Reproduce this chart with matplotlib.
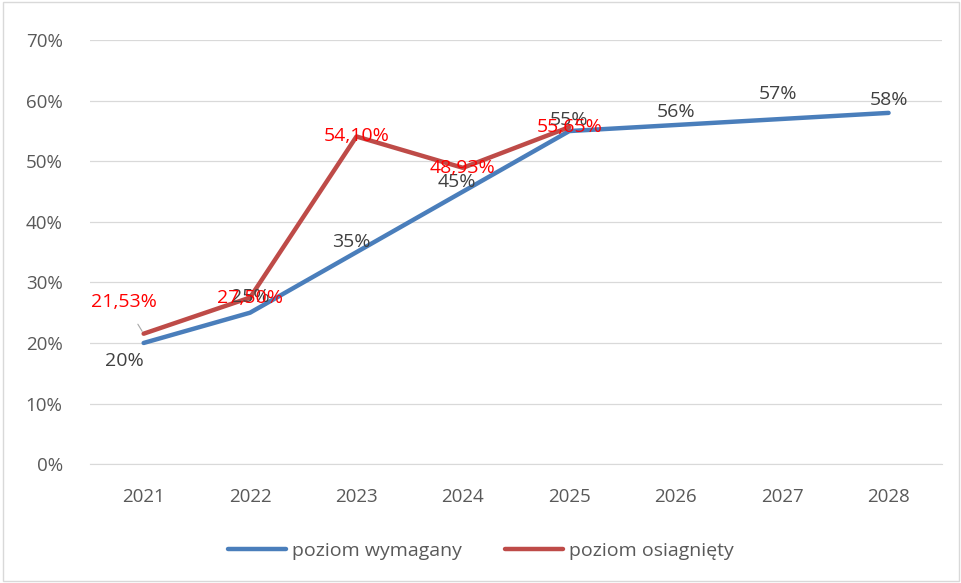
import matplotlib
matplotlib.use("Agg")
import matplotlib.pyplot as plt
from matplotlib.patches import Rectangle

years = ["2021", "2022", "2023", "2024", "2025", "2026", "2027", "2028"]
required = [20, 25, 35, 45, 55, 56, 57, 58]
achieved = [21.53, 27.50, 54.10, 48.93, 55.65]

req_labels = ["20%", "25%", "35%", "45%", "55%", "56%", "57%", "58%"]
ach_labels = ["21,53%", "27,50%", "54,10%", "48,93%", "55,65%"]

BLUE = "#4A7EBB"
RED = "#BE4B48"
GRAY = "#595959"

plt.rcParams["font.family"] = ["Open Sans", "DejaVu Sans"]

fig = plt.figure(figsize=(9.62, 5.83), dpi=100)
ax = fig.add_axes([0.094, 0.204, 0.885, 0.727])

x = list(range(len(years)))
ax.plot(x, required, color=BLUE, lw=3.2, solid_capstyle="round", label="poziom wymagany", zorder=3)
ax.plot(x[:len(achieved)], achieved, color=RED, lw=3.2, solid_capstyle="round", label="poziom osiagnięty", zorder=3)

ax.set_xlim(-0.5, len(years) - 0.5)
ax.set_ylim(0, 70)
ax.set_yticks(range(0, 71, 10))
ax.set_yticklabels([f"{v}%" for v in range(0, 71, 10)])
ax.set_xticks(x)
ax.set_xticklabels(years)
ax.tick_params(axis="both", colors=GRAY, labelsize=13.5, length=0)
ax.tick_params(axis="y", pad=20)
ax.tick_params(axis="x", pad=17)
ax.grid(axis="y", color="#D9D9D9", lw=0.9)
ax.set_axisbelow(True)
for s in ["top", "right", "left"]:
    ax.spines[s].set_visible(False)
ax.spines["bottom"].set_color("#D9D9D9")

# data labels for required level
req_offsets = [(-14, -13), (0, 11), (-4, 7), (-4, 7), (0, 8), (0, 9), (-3, 18), (0, 9)]
for i, (v, lab) in enumerate(zip(required, req_labels)):
    dx, dy = req_offsets[i]
    ax.annotate(lab, (i, v), xytext=(dx, dy), textcoords="offset points",
                ha="center", va="center", color="#404040", fontsize=14, zorder=4)

# data labels for achieved level
for i, (v, lab) in enumerate(zip(achieved, ach_labels)):
    if i == 0:
        ax.annotate(lab, (i, v), xytext=(-14, 23), textcoords="offset points",
                    ha="center", va="center", color="#FF0000", fontsize=14, zorder=5,
                    arrowprops=dict(arrowstyle="-", color="#A6A6A6", lw=0.8,
                                    shrinkA=9, shrinkB=2))
    else:
        ax.annotate(lab, (i, v), xytext=(0, 0), textcoords="offset points",
                    ha="center", va="center", color="#FF0000", fontsize=14, zorder=5)

leg = fig.legend(loc="lower center", bbox_to_anchor=(0.5, 0.01), ncol=2, frameon=False,
                 fontsize=14, handlelength=3.0, columnspacing=2.2, handletextpad=0.3)
for t in leg.get_texts():
    t.set_color(GRAY)

fig.patches.append(Rectangle((0.003, 0.003), 0.994, 0.994, transform=fig.transFigure,
                             fill=False, edgecolor="#D9D9D9", lw=1))

fig.savefig("out.png", dpi=100)
